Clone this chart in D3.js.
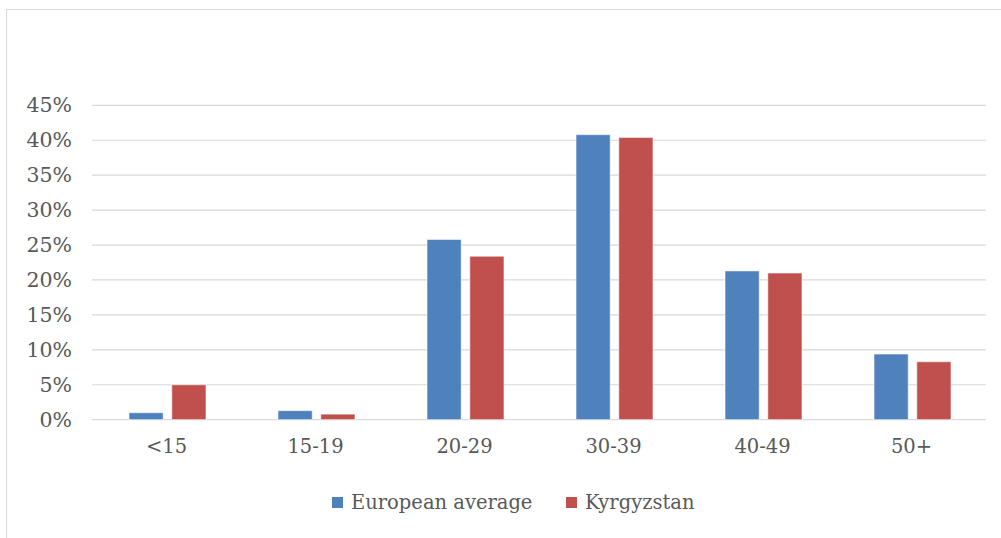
<!DOCTYPE html>
<html>
<head>
<meta charset="utf-8">
<script src="https://cdn.jsdelivr.net/npm/d3@7"></script>
<style>
  body { margin: 0; background: #fff; }
  svg text { font-family: "DejaVu Serif", serif; fill: #595959; }
</style>
</head>
<body>
<svg id="chart" width="1001" height="538"></svg>
<script>
// datos del gráfico
const categories = ["<15", "15-19", "20-29", "30-39", "40-49", "50+"];
const seriesNames = ["European average", "Kyrgyzstan"];
const europeanAverage = [1.0, 1.3, 25.8, 40.8, 21.3, 9.4];
const kyrgyzstan = [5.0, 0.8, 23.4, 40.4, 21.0, 8.3];
const yTicks = [0, 5, 10, 15, 20, 25, 30, 35, 40, 45];
const colors = ["#4F81BD", "#C0504D"];

const svg = d3.select("#chart");

// borde del área del gráfico
svg.append("path")
  .attr("d", "M6.5,538 L6.5,9.5 L1001,9.5")
  .attr("fill", "none")
  .attr("stroke", "#d9d9d9")
  .attr("stroke-width", 1);

const plot = { left: 92, right: 986, top: 105.3, bottom: 419.7 };

const x = d3.scaleBand()
  .domain(categories)
  .range([plot.left, plot.right]);

const y = d3.scaleLinear()
  .domain([0, 45])
  .range([plot.bottom, plot.top]);

const xInner = d3.scaleBand()
  .domain(seriesNames)
  .range([0, 77])
  .paddingInner(0.2);

// líneas de la cuadrícula
svg.append("g")
  .selectAll("line")
  .data(yTicks)
  .enter().append("line")
  .attr("x1", plot.left)
  .attr("x2", plot.right)
  .attr("y1", d => y(d))
  .attr("y2", d => y(d))
  .attr("stroke", "#d9d9d9")
  .attr("stroke-width", 1.2);

// eje Y
const yAxis = svg.append("g")
  .attr("transform", "translate(" + plot.left + ",0)")
  .call(d3.axisLeft(y).tickValues(yTicks).tickFormat(d => d + "%").tickSize(0).tickPadding(20));
yAxis.select(".domain").remove();
yAxis.selectAll("text")
  .style("font-size", "20.5px")
  .style("font-family", "DejaVu Serif, serif")
  .attr("fill", "#595959");

// eje X
const xAxis = svg.append("g")
  .attr("transform", "translate(0," + plot.bottom + ")")
  .call(d3.axisBottom(x).tickSize(0).tickPadding(19));
xAxis.select(".domain").remove();
xAxis.selectAll("text")
  .style("font-size", "19.5px")
  .style("font-family", "DejaVu Serif, serif")
  .attr("fill", "#595959");

// barras
const rows = categories.map((c, i) => ({
  category: c,
  values: [europeanAverage[i], kyrgyzstan[i]]
}));

const groups = svg.selectAll(".group")
  .data(rows)
  .enter().append("g")
  .attr("class", "group")
  .attr("transform", d => "translate(" + (x(d.category) + x.bandwidth() / 2 - 37.5) + ",0)");

groups.selectAll("rect")
  .data(d => d.values.map((v, j) => ({ name: seriesNames[j], value: v, j: j })))
  .enter().append("rect")
  .attr("x", d => xInner(d.name))
  .attr("y", d => y(d.value))
  .attr("width", xInner.bandwidth())
  .attr("height", d => y(0) - y(d.value))
  .attr("fill", d => colors[d.j])
  .attr("stroke", "#ffffff")
  .attr("stroke-opacity", 0.6)
  .attr("stroke-width", 1);

// leyenda
const legendItems = [
  { name: seriesNames[0], color: colors[0], x: 332 },
  { name: seriesNames[1], color: colors[1], x: 566 }
];
const legend = svg.selectAll(".legend")
  .data(legendItems)
  .enter().append("g")
  .attr("class", "legend")
  .attr("transform", d => "translate(" + d.x + ",497)");

legend.append("rect")
  .attr("width", 11)
  .attr("height", 11)
  .attr("fill", d => d.color);

legend.append("text")
  .attr("x", 19)
  .attr("y", 12)
  .style("font-size", "19.5px")
  .text(d => d.name);
</script>
</body>
</html>
